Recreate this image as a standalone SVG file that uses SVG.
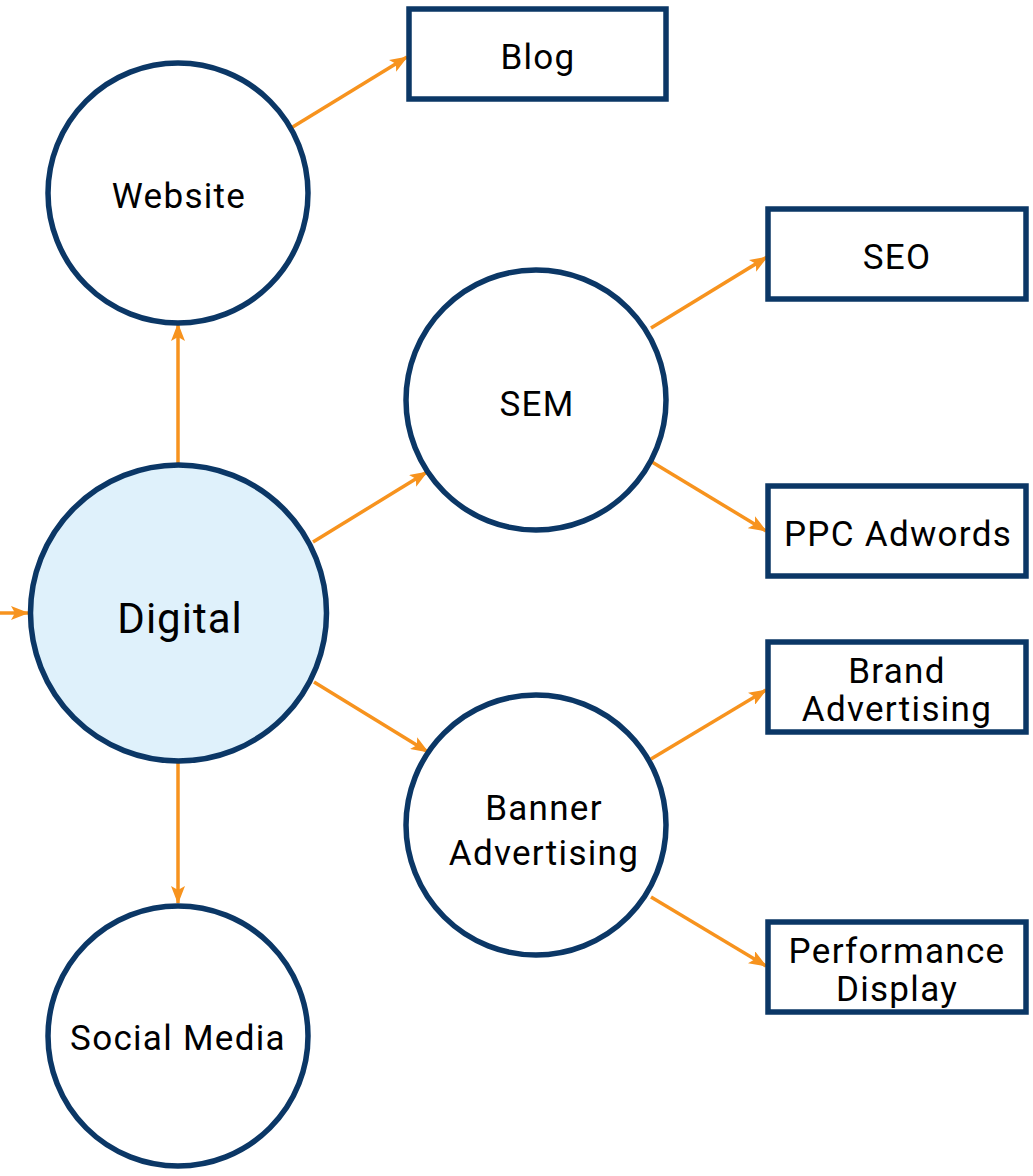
<svg xmlns="http://www.w3.org/2000/svg" width="1033" height="1176" viewBox="0 0 1033 1176">
  <style>
    .node { fill: #ffffff; stroke: #0b3766; stroke-width: 5.5; }
    .hub { fill: #dff1fb; }
    .label { font-family: Roboto, "Liberation Sans", sans-serif; font-weight: 400; font-size: 35px; fill: #000000; text-anchor: middle; letter-spacing: 1.3px; }
    .big { font-size: 42px; letter-spacing: 1px; }
    .link { stroke: #f7931e; stroke-width: 3.5; fill: none; marker-end: url(#arrow); }
  </style>
  <defs>
    <marker id="arrow" markerUnits="userSpaceOnUse" markerWidth="18" markerHeight="14" refX="17" refY="7" orient="auto">
      <path d="M0,0 L18,7 L0,14 L4,7 Z" fill="#f7931e"/>
    </marker>
  </defs>

  <g id="connectors">
    <line class="link" x1="0" y1="613" x2="28" y2="613"/>
    <line class="link" x1="178" y1="463" x2="178" y2="324"/>
    <line class="link" x1="178" y1="763" x2="178" y2="903"/>
    <line class="link" x1="313" y1="542" x2="427" y2="472"/>
    <line class="link" x1="314" y1="682" x2="428" y2="752"/>
    <line class="link" x1="291" y1="128" x2="407" y2="57"/>
    <line class="link" x1="651" y1="328" x2="767" y2="257"/>
    <line class="link" x1="652" y1="462" x2="766" y2="531"/>
    <line class="link" x1="651" y1="759" x2="766" y2="690"/>
    <line class="link" x1="651" y1="897" x2="766" y2="966"/>
  </g>

  <g id="digital">
    <circle class="node hub" cx="178.5" cy="613" r="148"/>
    <text class="label big" x="180" y="633">Digital</text>
  </g>
  <g id="website">
    <circle class="node" cx="178" cy="193" r="130"/>
    <text class="label" x="179" y="208">Website</text>
  </g>
  <g id="social-media">
    <circle class="node" cx="178" cy="1036" r="130"/>
    <text class="label" x="178" y="1050">Social Media</text>
  </g>
  <g id="sem">
    <circle class="node" cx="536" cy="400" r="130"/>
    <text class="label" x="537" y="416">SEM</text>
  </g>
  <g id="banner-advertising">
    <circle class="node" cx="536" cy="825" r="130"/>
    <text class="label" x="544" y="820">Banner</text>
    <text class="label" x="544" y="865">Advertising</text>
  </g>
  <g id="blog">
    <rect class="node" x="409" y="9" width="257" height="90"/>
    <text class="label" x="538" y="69">Blog</text>
  </g>
  <g id="seo">
    <rect class="node" x="768" y="209" width="258" height="90"/>
    <text class="label" x="897" y="269">SEO</text>
  </g>
  <g id="ppc-adwords">
    <rect class="node" x="768" y="486" width="258" height="90"/>
    <text class="label" x="898" y="546">PPC Adwords</text>
  </g>
  <g id="brand-advertising">
    <rect class="node" x="768" y="642" width="258" height="90"/>
    <text class="label" x="897" y="683">Brand</text>
    <text class="label" x="897" y="721">Advertising</text>
  </g>
  <g id="performance-display">
    <rect class="node" x="768" y="922" width="258" height="90"/>
    <text class="label" x="897" y="963">Performance</text>
    <text class="label" x="897" y="1001">Display</text>
  </g>
</svg>
